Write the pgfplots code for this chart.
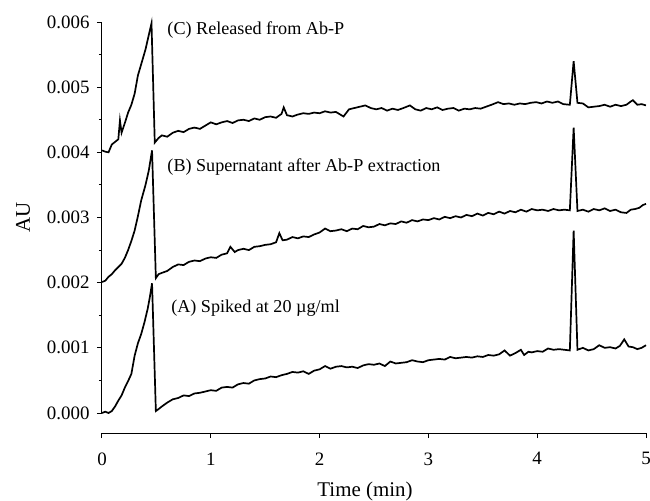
\documentclass[border=0pt]{standalone}
\usepackage{fontspec}
\setmainfont{Liberation Serif}
\usepackage{pgfplots}
\pgfplotsset{compat=1.18}
\begin{document}
\begin{tikzpicture}
\path[use as bounding box] (-102bp,-88bp) rectangle (548bp,413bp);
% minor x ticks pointing inward
\begin{axis}[
  at={(0,0)}, anchor=south west,
  scale only axis, width=544bp, height=391bp,
  xmin=0, xmax=5, ymin=0, ymax=0.006,
  axis x line=bottom, axis y line=none,
  axis line style={-, line width=1bp, black},
  axis x line shift=20bp,
  xtick=\empty, ytick=\empty,
  minor xtick={0.2,0.4,0.6,0.8,1.2,1.4,1.6,1.8,2.2,2.4,2.6,2.8,3.2,3.4,3.6,3.8,4.2,4.4,4.6,4.8},
  tick align=inside,
  minor tick length=3.5bp,
  every tick/.style={black, line width=1bp},
  xticklabels={},
]
\end{axis}
\begin{axis}[
  at={(0,0)}, anchor=south west,
  scale only axis, width=544bp, height=391bp,
  xmin=0, xmax=5, ymin=0, ymax=0.006,
  axis lines=left,
  axis line style={-, line width=1bp, black},
  axis x line shift=20bp,
  xtick={0,1,2,3,4,5},
  ytick={0,0.001,0.002,0.003,0.004,0.005,0.006},
  minor y tick num=1,
  tick align=outside,
  major tick length=5bp,
  minor tick length=3bp,
  every tick/.style={black, line width=1bp},
  scaled y ticks=false,
  /pgf/number format/assume math mode=true,
  yticklabel style={xshift=-4bp, /pgf/number format/.cd, fixed, fixed zerofill, precision=3},
  xticklabel style={yshift=-11bp},
  ticklabel style={font=\fontsize{19}{21}\selectfont},
  xlabel={Time (min)},
  ylabel={AU},
  label style={font=\fontsize{21}{23}\selectfont},
  xlabel style={yshift=-10bp, xshift=-9bp},
  ylabel style={yshift=10bp},
  clip=false,
]
\addplot[black, line width=1.7bp] coordinates {
(0.00,0.00000)(0.03,0.00002)(0.06,0.00000)(0.09,0.00003)(0.12,0.00010)(0.15,0.00019)
(0.18,0.00027)(0.21,0.00039)(0.24,0.00049)(0.27,0.00060)(0.30,0.00088)(0.33,0.00107)
(0.36,0.00121)(0.39,0.00139)(0.42,0.00160)(0.44,0.00178)(0.46,0.00199)(0.495,0.00003)
(0.52,0.00006)(0.55,0.00010)(0.60,0.00016)(0.65,0.00021)(0.70,0.00023)(0.75,0.00027)
(0.80,0.00026)(0.85,0.00030)(0.90,0.00031)(0.95,0.00033)(1.00,0.00035)(1.05,0.00034)
(1.10,0.00039)(1.15,0.00040)(1.20,0.00039)(1.25,0.00044)(1.30,0.00046)(1.35,0.00045)
(1.40,0.00050)(1.45,0.00052)(1.50,0.00053)(1.55,0.00056)(1.60,0.00055)(1.65,0.00058)
(1.70,0.00060)(1.75,0.00063)(1.80,0.00062)(1.85,0.00064)(1.90,0.00060)(1.95,0.00065)
(2.00,0.00067)(2.05,0.00072)(2.10,0.00068)(2.15,0.00071)(2.20,0.00072)(2.25,0.00070)
(2.30,0.00071)(2.35,0.00069)(2.40,0.00073)(2.45,0.00075)(2.50,0.00074)(2.55,0.00076)
(2.60,0.00072)(2.65,0.00079)(2.70,0.00076)(2.75,0.00077)(2.80,0.00078)(2.85,0.00081)
(2.90,0.00079)(2.95,0.00078)(3.00,0.00081)(3.05,0.00082)(3.10,0.00083)(3.15,0.00082)
(3.20,0.00086)(3.25,0.00084)(3.30,0.00085)(3.35,0.00086)(3.40,0.00085)(3.45,0.00087)
(3.50,0.00086)(3.55,0.00089)(3.60,0.00088)(3.65,0.00090)(3.70,0.00096)(3.75,0.00088)
(3.80,0.00092)(3.85,0.00097)(3.88,0.00089)(3.92,0.00094)(3.95,0.00093)(4.00,0.00095)
(4.05,0.00094)(4.10,0.00099)(4.15,0.00097)(4.20,0.00098)(4.25,0.00097)(4.30,0.00096)
(4.335,0.00280)(4.37,0.00097)(4.42,0.00100)(4.47,0.00096)(4.52,0.00098)(4.57,0.00104)
(4.62,0.00100)(4.67,0.00101)(4.72,0.00099)(4.76,0.00103)(4.80,0.00113)(4.84,0.00102)
(4.88,0.00101)(4.92,0.00098)(4.96,0.00100)(5.00,0.00104)
};
\addplot[black, line width=1.7bp] coordinates {
(0.00,0.00201)(0.03,0.00203)(0.06,0.00209)(0.09,0.00213)(0.12,0.00219)(0.15,0.00224)
(0.18,0.00229)(0.21,0.00238)(0.24,0.00250)(0.27,0.00264)(0.30,0.00280)(0.33,0.00302)
(0.36,0.00326)(0.40,0.00350)(0.43,0.00372)(0.46,0.00403)(0.495,0.00207)(0.52,0.00213)
(0.55,0.00215)(0.60,0.00218)(0.65,0.00224)(0.70,0.00228)(0.75,0.00227)(0.80,0.00232)
(0.85,0.00234)(0.90,0.00233)(0.95,0.00237)(1.00,0.00239)(1.05,0.00238)(1.10,0.00243)
(1.15,0.00245)(1.18,0.00255)(1.22,0.00247)(1.25,0.00250)(1.30,0.00252)(1.35,0.00250)
(1.40,0.00255)(1.45,0.00256)(1.50,0.00258)(1.55,0.00259)(1.60,0.00262)(1.63,0.00276)
(1.66,0.00265)(1.70,0.00266)(1.75,0.00270)(1.80,0.00268)(1.85,0.00271)(1.90,0.00270)
(1.95,0.00274)(2.00,0.00277)(2.05,0.00283)(2.10,0.00279)(2.15,0.00280)(2.20,0.00282)
(2.25,0.00279)(2.30,0.00283)(2.35,0.00282)(2.40,0.00287)(2.45,0.00285)(2.50,0.00286)
(2.55,0.00290)(2.60,0.00288)(2.65,0.00291)(2.70,0.00290)(2.75,0.00294)(2.80,0.00292)
(2.85,0.00296)(2.90,0.00294)(2.95,0.00297)(3.00,0.00296)(3.05,0.00299)(3.10,0.00297)
(3.15,0.00301)(3.20,0.00299)(3.25,0.00302)(3.30,0.00300)(3.35,0.00304)(3.40,0.00302)
(3.45,0.00306)(3.50,0.00303)(3.55,0.00307)(3.60,0.00305)(3.65,0.00309)(3.70,0.00306)
(3.75,0.00310)(3.80,0.00308)(3.85,0.00312)(3.90,0.00309)(3.95,0.00313)(4.00,0.00311)
(4.05,0.00312)(4.10,0.00310)(4.15,0.00313)(4.20,0.00311)(4.25,0.00312)(4.30,0.00311)
(4.335,0.00438)(4.37,0.00310)(4.42,0.00312)(4.47,0.00309)(4.52,0.00313)(4.57,0.00311)
(4.62,0.00314)(4.67,0.00310)(4.72,0.00312)(4.77,0.00308)(4.82,0.00307)(4.86,0.00312)
(4.90,0.00313)(4.94,0.00315)(4.97,0.00319)(5.00,0.00321)
};
\addplot[black, line width=1.7bp] coordinates {
(0.00,0.00403)(0.03,0.00401)(0.06,0.00400)(0.09,0.00412)(0.12,0.00416)(0.15,0.00420)
(0.165,0.00449)(0.18,0.00430)(0.21,0.00445)(0.24,0.00461)(0.27,0.00473)(0.30,0.00490)
(0.33,0.00518)(0.36,0.00535)(0.40,0.00558)(0.43,0.00580)(0.455,0.00598)(0.485,0.00415)
(0.52,0.00422)(0.55,0.00426)(0.60,0.00424)(0.65,0.00430)(0.70,0.00433)(0.75,0.00431)
(0.80,0.00436)(0.85,0.00438)(0.90,0.00436)(0.95,0.00441)(1.00,0.00446)(1.05,0.00443)
(1.10,0.00446)(1.15,0.00448)(1.20,0.00445)(1.25,0.00449)(1.30,0.00450)(1.35,0.00448)
(1.40,0.00452)(1.45,0.00450)(1.50,0.00454)(1.55,0.00455)(1.60,0.00453)(1.65,0.00459)
(1.67,0.00469)(1.70,0.00457)(1.75,0.00455)(1.80,0.00458)(1.85,0.00460)(1.90,0.00459)
(1.95,0.00461)(2.00,0.00460)(2.05,0.00463)(2.10,0.00461)(2.15,0.00462)(2.22,0.00455)
(2.27,0.00466)(2.32,0.00468)(2.37,0.00470)(2.42,0.00472)(2.47,0.00468)(2.52,0.00466)
(2.57,0.00468)(2.62,0.00464)(2.67,0.00467)(2.72,0.00465)(2.77,0.00468)(2.83,0.00472)
(2.88,0.00466)(2.93,0.00464)(2.98,0.00468)(3.03,0.00466)(3.08,0.00469)(3.13,0.00465)
(3.18,0.00467)(3.23,0.00468)(3.28,0.00464)(3.33,0.00467)(3.38,0.00466)(3.43,0.00468)
(3.48,0.00467)(3.53,0.00470)(3.58,0.00473)(3.64,0.00477)(3.69,0.00474)(3.74,0.00475)
(3.79,0.00473)(3.84,0.00475)(3.89,0.00474)(3.94,0.00476)(3.99,0.00477)(4.04,0.00475)
(4.09,0.00478)(4.14,0.00476)(4.19,0.00478)(4.24,0.00474)(4.30,0.00473)(4.335,0.00540)
(4.37,0.00476)(4.42,0.00475)(4.47,0.00469)(4.52,0.00470)(4.57,0.00471)(4.62,0.00473)
(4.67,0.00470)(4.72,0.00473)(4.77,0.00471)(4.82,0.00473)(4.86,0.00478)(4.88,0.00480)
(4.92,0.00473)(4.96,0.00474)(5.00,0.00472)
};
\node[anchor=west, font=\fontsize{18.2}{20}\selectfont, inner sep=0pt] at (axis cs:0.60,0.00587) {(C) Released from Ab-P};
\node[anchor=west, font=\fontsize{18.2}{20}\selectfont, inner sep=0pt] at (axis cs:0.60,0.00377) {(B) Supernatant after Ab-P extraction};
\node[anchor=west, font=\fontsize{18.2}{20}\selectfont, inner sep=0pt] at (axis cs:0.635,0.00161) {(A) Spiked at 20 µg/ml};
\end{axis}
\end{tikzpicture}
\end{document}
